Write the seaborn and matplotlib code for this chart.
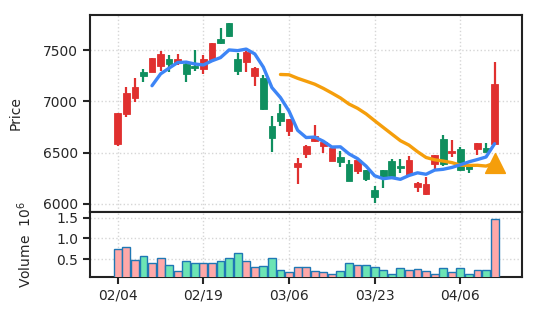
import numpy as np
import pandas as pd
import matplotlib
matplotlib.use("Agg")
import matplotlib.pyplot as plt
import seaborn as sns

# ---- data ----
opens = [6581, 6874, 7030, 7286, 7289, 7347, 7409, 7370, 7361, 7347,
         7312, 7403, 7604, 7760, 7409, 7380, 7247, 7224, 6763, 6883,
         6714, 6363, 6487, 6613, 6565, 6419, 6455, 6387, 6324, 6331,
         6136, 6331, 6419, 6370, 6282, 6168, 6094, 6387, 6630, 6494,
         6533, 6370, 6533, 6542, 6584]
highs = [6890, 7137, 7224, 7312, 7425, 7490, 7451, 7461, 7370, 7500,
         7451, 7570, 7711, 7765, 7468, 7490, 7330, 7256, 6857, 6971,
         6830, 6445, 6570, 6770, 6615, 6545, 6519, 6429, 6435, 6335,
         6175, 6335, 6435, 6438, 6468, 6210, 6260, 6480, 6672, 6623,
         6552, 6375, 6595, 6591, 7386]
lows = [6568, 6850, 6996, 7191, 7285, 7295, 7283, 7354, 7191, 7295,
        7263, 7400, 7560, 7630, 7253, 7289, 7152, 6915, 6509, 6763,
        6665, 6192, 6445, 6607, 6500, 6415, 6357, 6220, 6289, 6227,
        6013, 6153, 6270, 6299, 6278, 6114, 6090, 6338, 6370, 6461,
        6325, 6305, 6477, 6505, 6580]
closes = [6883, 7078, 7137, 7244, 7419, 7458, 7361, 7409, 7263, 7328,
          7409, 7565, 7565, 7636, 7295, 7484, 7328, 6922, 6640, 6808,
          6825, 6396, 6568, 6662, 6607, 6542, 6406, 6224, 6429, 6243,
          6071, 6266, 6273, 6348, 6429, 6202, 6195, 6477, 6387, 6519,
          6331, 6338, 6591, 6510, 7166]
volume_m = [0.755, 0.80, 0.47, 0.565, 0.40, 0.54, 0.37, 0.21, 0.445, 0.40,
            0.40, 0.42, 0.45, 0.54, 0.66, 0.45, 0.30, 0.325, 0.54, 0.25,
            0.19, 0.32, 0.32, 0.21, 0.18, 0.15, 0.205, 0.42, 0.37, 0.35,
            0.32, 0.23, 0.15, 0.28, 0.23, 0.27, 0.205, 0.15, 0.29, 0.18,
            0.29, 0.15, 0.245, 0.23, 1.47]
tick_pos = [0, 10, 20, 30, 40]
tick_labels = ["02/04", "02/19", "03/06", "03/23", "04/06"]

df = pd.DataFrame({"idx": np.arange(len(closes)), "open": opens, "high": highs,
                   "low": lows, "close": closes, "vol": volume_m})
df["dir"] = np.where(df["close"] >= df["open"], "up", "down")
df["ma5"] = df["close"].rolling(5).mean()
df["ma20"] = df["close"].rolling(20).mean()

UP, DOWN = "#e0302f", "#0f8f5f"
VUP, VDOWN = "#ffa8a8", "#6ce4b4"
BLUE, ORANGE = "#3d85f6", "#f59e0b"

sns.set_style("ticks", {"axes.grid": True, "grid.linestyle": ":",
                        "grid.color": "#d6d6d6", "axes.edgecolor": "#222222"})
plt.rcParams["font.family"] = ["DejaVu Sans"]
plt.rcParams["font.size"] = 10

fig = plt.figure(figsize=(5.37, 3.22), dpi=100)
L, W = 90 / 537, 432 / 537
ax = fig.add_axes([L, 1 - 212 / 322, W, 197 / 322])
axv = fig.add_axes([L, 1 - 276.7 / 322, W, 64.7 / 322], sharex=ax)

# candles
for _, r in df.iterrows():
    c = UP if r["dir"] == "up" else DOWN
    ax.vlines(r["idx"], r["low"], r["high"], color=c, lw=1.6, zorder=2)
    lo = min(r["open"], r["close"])
    h = max(abs(r["close"] - r["open"]), 8)
    ax.bar(r["idx"], h, bottom=lo, width=0.78, color=c, edgecolor=c, lw=0.6, zorder=3)

sns.lineplot(data=df, x="idx", y="ma20", ax=ax, color=ORANGE, lw=2.4, zorder=4)
sns.lineplot(data=df, x="idx", y="ma5", ax=ax, color=BLUE, lw=2.4, zorder=5)
last = df.iloc[[-1]]
sns.scatterplot(data=last, x="idx", y="ma20", ax=ax, marker="^", s=200,
                color=ORANGE, edgecolor=ORANGE, zorder=6, legend=False)

ax.set_ylim(5922, 7841)
ax.set_yticks([6000, 6500, 7000, 7500])
ax.set_xlim(-3.24, 47.2)
ax.set_ylabel("Price")
ax.set_xlabel("")
ax.yaxis.set_label_coords(-0.157, 0.5)
ax.tick_params(axis="x", bottom=False, labelbottom=False)
ax.tick_params(axis="y", direction="out", length=5, width=1.5)

# volume
sns.barplot(data=df, x="idx", y="vol", hue="dir", palette={"up": VUP, "down": VDOWN},
            native_scale=True, dodge=False, width=0.92, edgecolor="#1f77b4",
            linewidth=1.0, errorbar=None, legend=False, saturation=1, ax=axv, zorder=3)
axv.set_ylim(0.079, 1.633)
axv.set_yticks([0.5, 1.0, 1.5])
axv.set_yticklabels(["0.5", "1.0", "1.5"])
axv.set_xlim(-3.24, 47.2)
axv.set_xticks(tick_pos)
axv.set_xticklabels(tick_labels)
axv.set_xlabel("")
axv.set_ylabel("Volume  $10^{6}$")
axv.yaxis.set_label_coords(-0.13, 0.5)
axv.tick_params(axis="both", direction="out", length=5, width=1.5)

for a in (ax, axv):
    for s in a.spines.values():
        s.set_visible(True)
        s.set_linewidth(1.5)
        s.set_color("#222222")
    a.grid(True, linestyle=":", color="#d6d6d6", lw=1.0)
    a.set_axisbelow(True)

fig.savefig("out.png", dpi=100)
